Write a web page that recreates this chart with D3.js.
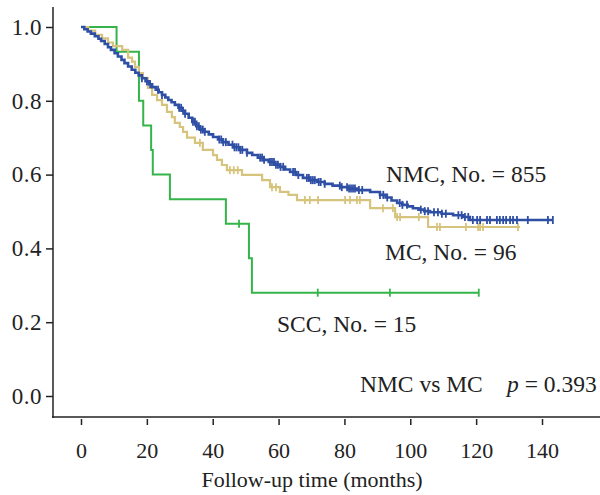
<!DOCTYPE html>
<html>
<head>
<meta charset="utf-8">
<script src="https://cdn.jsdelivr.net/npm/d3@7"></script>
<style>
body { margin: 0; background: #fff; }
text { font-family: "Liberation Serif", "Times New Roman", serif; fill: #222; }
</style>
</head>
<body>
<div id="chart"></div>
<script>
// survival steps [month, survival]
var nmcSteps = [[0,1.0],[1.0,0.994],[2.0,0.988],[3.0,0.982],[4.2,0.975],[5.3,0.968],[6.1,0.962],[7.2,0.954],
  [8.2,0.945],[9.1,0.938],[10.2,0.929],[11.2,0.920],[12.3,0.911],[13.2,0.902],[14.3,0.893],[15.4,0.884],
  [16.5,0.876],[17.5,0.869],[18.5,0.861],[19.6,0.853],[20.6,0.845],[21.6,0.837],[22.7,0.830],[23.6,0.823],
  [24.6,0.816],[25.6,0.809],[26.5,0.802],[27.5,0.796],[28.5,0.789],[29.6,0.781],[30.6,0.773],[31.6,0.765],
  [32.7,0.754],[33.8,0.743],[35.0,0.731],[36.1,0.722],[37.5,0.716],[38.8,0.709],[40.1,0.702],[41.6,0.695],
  [43.1,0.688],[44.8,0.681],[46.5,0.674],[48.3,0.667],[50.4,0.659],[52.0,0.653],[53.7,0.646],[55.3,0.640],
  [57.0,0.634],[58.7,0.627],[60.4,0.621],[62.0,0.614],[63.5,0.607],[65.4,0.599],[67.4,0.591],[69.5,0.585],
  [71.7,0.580],[74.0,0.575],[76.4,0.570],[78.7,0.566],[81.2,0.562],[83.8,0.558],[87.8,0.553],[90.8,0.545],
  [92.5,0.538],[94.3,0.530],[96.0,0.523],[97.6,0.518],[99.2,0.514],[100.8,0.509],[102.5,0.505],[104.2,0.501],
  [106.0,0.498],[109.5,0.494],[113.0,0.490],[116.0,0.485],[118.1,0.477],[143.3,0.477]];
var nmcCensor = [18.5,20.0,21.0,23.4,24.6,29.8,30.4,31.0,31.6,34.0,34.6,35.2,35.8,36.4,37.0,37.6,42.0,42.6,
  43.2,44.0,46.0,46.6,47.2,47.8,48.4,49.0,50.4,54.4,55.0,55.6,57.4,58.0,58.6,59.2,59.8,60.6,61.4,64.4,65.0,
  66.0,68.6,69.2,69.8,70.4,71.0,72.2,72.8,74.0,78.6,79.2,80.8,81.4,82.0,82.6,83.2,84.4,85.4,90.8,91.8,93.0,
  96.8,97.6,99.0,103.2,104.4,105.4,107.2,108.4,109.6,110.8,114.6,115.6,116.6,117.6,119.0,120.3,121.2,123.3,
  124.2,126.3,127.2,128.2,129.1,130.3,131.2,132.4,135.7,141.8,143.3];

var mcSteps = [[0,1.0],[2.2,0.990],[4.3,0.979],[6.4,0.969],[8.2,0.958],[9.7,0.948],[12.5,0.938],[14.3,0.917],
  [15.5,0.906],[16.4,0.892],[17.6,0.875],[18.8,0.862],[20.3,0.835],[21.6,0.816],[23.1,0.802],[24.6,0.789],
  [26.1,0.770],[27.6,0.756],[28.5,0.740],[30.0,0.729],[31.0,0.716],[32.2,0.700],[34.6,0.686],[37.0,0.667],
  [40.1,0.653],[41.3,0.640],[42.8,0.626],[44.3,0.612],[48.9,0.599],[55.0,0.585],[57.4,0.566],[60.4,0.553],
  [63.0,0.545],[65.6,0.531],[87.8,0.509],[95.4,0.485],[105.4,0.458],[133.3,0.458]];
var mcCensor = [36.1,45.2,46.4,47.6,58.0,59.2,68.0,69.5,72.0,80.2,81.7,83.8,84.7,91.7,94.7,96.0,96.9,102.6,
  108.1,109.0,116.9,120.6,121.2,122.1,132.7];

var sccSteps = [[0,1.0],[10.8,0.933],[17.6,0.800],[18.9,0.733],[21.3,0.667],[21.8,0.600],[27.0,0.533],
  [44.0,0.467],[51.0,0.373],[51.9,0.280],[120.8,0.280]];
var sccCensor = [48.0,71.9,93.8,120.8];

var xTicks = [0,20,40,60,80,100,120,140];
var yTicks = [0,0.2,0.4,0.6,0.8,1.0];

var couleurs = {nmc: "#2f4fa5", mc: "#d6c47c", scc: "#35b44a"};

var svg = d3.select("#chart").append("svg").attr("width", 600).attr("height", 495);

var x = d3.scaleLinear().domain([0, 140]).range([81, 542]);
var y = d3.scaleLinear().domain([0, 1]).range([396, 27]);

// axes lines
svg.append("line").attr("x1", 53).attr("x2", 53).attr("y1", 7).attr("y2", 418)
  .attr("stroke", "#222").attr("stroke-width", 1.5);
svg.append("line").attr("x1", 52).attr("x2", 600).attr("y1", 417).attr("y2", 417)
  .attr("stroke", "#222").attr("stroke-width", 1.5);

var gy = svg.append("g").attr("transform", "translate(53,0)")
  .call(d3.axisLeft(y).tickValues(yTicks).tickFormat(d3.format(".1f")).tickSize(7).tickPadding(4));
gy.select(".domain").remove();
gy.selectAll(".tick line").attr("stroke", "#222").attr("stroke-width", 1.5);
gy.selectAll(".tick text").style("font-size", "23px").attr("fill", "#222").style("letter-spacing", "0.5px");

var gx = svg.append("g").attr("transform", "translate(0,419)")
  .call(d3.axisBottom(x).tickValues(xTicks).tickSize(6).tickPadding(17));
gx.select(".domain").remove();
gx.selectAll(".tick line").attr("stroke", "#222").attr("stroke-width", 1.5);
gx.selectAll(".tick text").style("font-size", "22px").attr("fill", "#222");

svg.append("text").attr("x", 312).attr("y", 487).attr("text-anchor", "middle")
  .style("font-size", "22px").text("Follow-up time (months)");

var ligne = d3.line().x(d => x(d[0])).y(d => y(d[1])).curve(d3.curveStepAfter);

function survieA(steps, t) {
  var s = steps[0][1];
  for (var i = 0; i < steps.length; i++) { if (steps[i][0] <= t) s = steps[i][1]; }
  return s;
}

function dessineCourbe(steps, censor, couleur, largeur) {
  svg.append("path").attr("d", ligne(steps)).attr("fill", "none")
    .attr("stroke", couleur).attr("stroke-width", largeur);
  svg.selectAll(null).data(censor).enter().append("line")
    .attr("x1", d => x(d)).attr("x2", d => x(d))
    .attr("y1", d => y(survieA(steps, d)) - 4).attr("y2", d => y(survieA(steps, d)) + 4)
    .attr("stroke", couleur).attr("stroke-width", 1.8);
}

dessineCourbe(sccSteps, sccCensor, couleurs.scc, 2);
dessineCourbe(mcSteps, mcCensor, couleurs.mc, 2.2);
dessineCourbe(nmcSteps, nmcCensor, couleurs.nmc, 2.6);

var etiquettes = [
  {t: "NMC, No. = 855", x: 386, y: 182},
  {t: "MC, No. = 96", x: 385, y: 260},
  {t: "SCC, No. = 15", x: 277, y: 332}
];
svg.selectAll(null).data(etiquettes).enter().append("text")
  .attr("x", d => d.x).attr("y", d => d.y).style("font-size", "23.5px").text(d => d.t);

svg.append("text").attr("x", 360).attr("y", 392).style("font-size", "23.5px").text("NMC vs MC");
var pTxt = svg.append("text").attr("x", 507).attr("y", 392).style("font-size", "23.5px");
pTxt.append("tspan").style("font-style", "italic").text("p");
pTxt.append("tspan").text(" = 0.393");
</script>
</body>
</html>
